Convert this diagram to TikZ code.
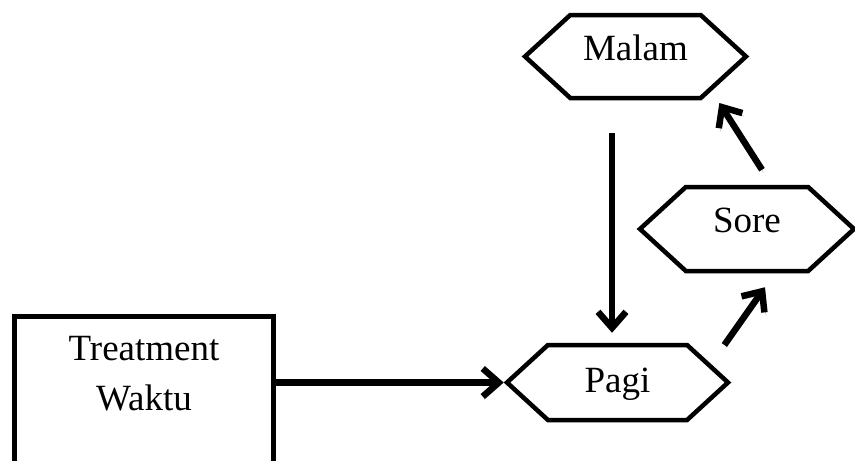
\documentclass[tikz,border=0pt]{standalone}
\usepackage{fontspec}
\setmainfont{Liberation Serif}
\usetikzlibrary{arrows.meta}
\usetikzlibrary{shapes.symbols}

\begin{document}
\begin{tikzpicture}[x=1pt, y=-1pt,
		every node/.style={font=\fontsize{37}{50}\selectfont},
		hexa/.style={draw, line width=4.5pt, signal, signal to=east and west,
			signal pointer angle=85, inner sep=0pt, text height=25pt},
		flow/.style={line width=6.5pt, -{Straight Barb[length=16pt,width=28pt]},
			preaction={draw=gray!55, transform canvas={xshift=1.5pt,yshift=-3pt}}}]
		\clip (0,0) rectangle (855,461);
		%
		%Treatment Waktu
		\node[draw, line width=5pt, anchor=north, minimum width=259, align=center,
			inner sep=20pt, text depth=90pt] (treat) at (144,313.5) {Treatment\\Waktu};
		%
		%Pagi
		\node[hexa, minimum width=221, minimum height=75, text depth=6pt] (pagi) at (617.5,382.5) {Pagi};
		%
		%Sore
		\node[hexa, minimum width=214, minimum height=84, text depth=19pt] (sore) at (747,229) {Sore};
		%
		%Malam
		\node[hexa, minimum width=221, minimum height=83, text depth=18pt] (malam) at (635.5,56.5) {Malam};
		%
		%Pfeil Treatment-Pagi
		\draw[flow] (treat.east |- pagi.west) -- (pagi.west);
		%
		%Pfeil Malam-Pagi
		\draw[flow, shorten <=33pt, shorten >=10pt] ([xshift=-5.5pt]malam.south -| pagi.north) -- ([xshift=-5.5pt]pagi.north);
		%
		%Pfeil Pagi-Sore
		\draw[flow] ([shift={(-7,-37.5)}]pagi.east) -- ([shift={(18,14)}]sore.south);
		%
		%Pfeil Sore-Malam
		\draw[flow] ([shift={(15,-15)}]sore.north) -- ([shift={(-30,46.5)}]malam.east);
	\end{tikzpicture}
\end{document}
